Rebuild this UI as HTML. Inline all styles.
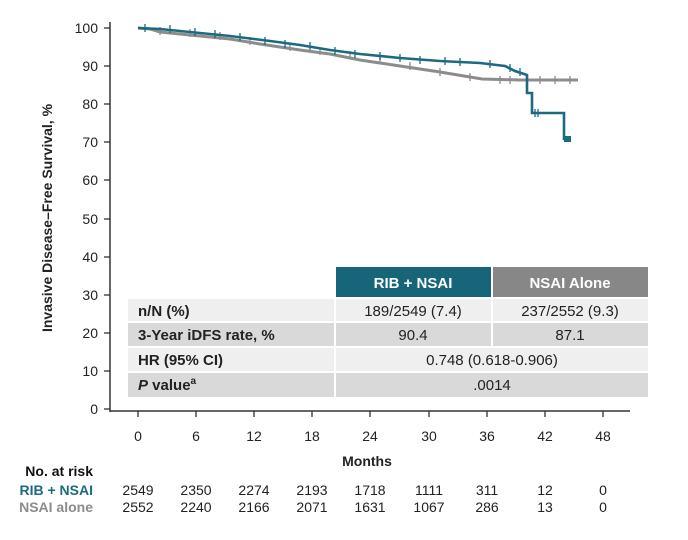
<!DOCTYPE html>
<html><head><style>
body{margin:0;background:#fff;}
svg{font-family:"Liberation Sans",Arial,sans-serif;}
</style></head><body>
<svg width="688" height="535" xmlns="http://www.w3.org/2000/svg">
<rect width="688" height="535" fill="#fff"/>
<line x1="110" y1="22" x2="110" y2="412" stroke="#333" stroke-width="1.5"/>
<line x1="110" y1="411" x2="630" y2="411" stroke="#333" stroke-width="1.5"/>
<g stroke="#333" stroke-width="1.3">
<line x1="104" y1="28" x2="110" y2="28"/><line x1="104" y1="66" x2="110" y2="66"/><line x1="104" y1="104" x2="110" y2="104"/><line x1="104" y1="142" x2="110" y2="142"/><line x1="104" y1="180" x2="110" y2="180"/><line x1="104" y1="219" x2="110" y2="219"/><line x1="104" y1="257" x2="110" y2="257"/><line x1="104" y1="295" x2="110" y2="295"/><line x1="104" y1="333" x2="110" y2="333"/><line x1="104" y1="371" x2="110" y2="371"/><line x1="104" y1="409" x2="110" y2="409"/>
<line x1="138" y1="411" x2="138" y2="417"/><line x1="196" y1="411" x2="196" y2="417"/><line x1="254" y1="411" x2="254" y2="417"/><line x1="312" y1="411" x2="312" y2="417"/><line x1="370" y1="411" x2="370" y2="417"/><line x1="429" y1="411" x2="429" y2="417"/><line x1="487" y1="411" x2="487" y2="417"/><line x1="545" y1="411" x2="545" y2="417"/><line x1="603" y1="411" x2="603" y2="417"/>
</g>
<g font-size="14" fill="#222" text-anchor="end">
<text x="98" y="33">100</text><text x="98" y="71">90</text><text x="98" y="109">80</text><text x="98" y="147">70</text><text x="98" y="185">60</text><text x="98" y="224">50</text><text x="98" y="262">40</text><text x="98" y="300">30</text><text x="98" y="338">20</text><text x="98" y="376">10</text><text x="98" y="414">0</text>
</g>
<g font-size="14" fill="#222" text-anchor="middle">
<text x="138" y="441">0</text><text x="196" y="441">6</text><text x="254" y="441">12</text><text x="312" y="441">18</text><text x="370" y="441">24</text><text x="429" y="441">30</text><text x="487" y="441">36</text><text x="545" y="441">42</text><text x="603" y="441">48</text>
</g>
<text x="367" y="466" font-size="14" font-weight="bold" text-anchor="middle" fill="#222">Months</text>
<text transform="translate(52,218) rotate(-90)" font-size="14" font-weight="bold" text-anchor="middle" fill="#222">Invasive Disease–Free Survival, %</text>
<polyline fill="none" stroke="#8c8c8c" stroke-width="3" points="138,28 150,29 160,32 180,34 200,36 230,39 260,44 300,50 330,54 360,60 400,66 440,72 470,77 482,79 520,80 578,80"/>
<g stroke="#8c8c8c" stroke-width="1.3">
<path d="M160,27v8M190,29v8M220,32v8M250,37v8M290,43v8M320,47v8M350,51v8M380,56v8M410,62v8M440,68v8M470,73v8M500,76v8M510,76v8M540,76v8M555,76v8M570,76v8"/>
</g>
<polyline fill="none" stroke="#1c6a80" stroke-width="2.6" points="138,28 160,29 190,32 230,36 270,41 300,45 330,50 360,54 400,58 440,61 480,63 505,66 515,71 524,74 527,75 527,93 532,93 532,113 564,113 564,139 571,139"/>
<g stroke="#1c6a80" stroke-width="1.3">
<path d="M145,24v8M170,25v8M195,28v8M215,30v8M240,33v8M265,37v8M285,40v8M310,42v8M335,47v8M355,50v8M380,52v8M400,54v8M420,56v8M445,57v8M460,58v8M490,60v8M510,64v8M520,68v8M535,109v8M538,109v8"/>
</g>
<rect x="564" y="136" width="7" height="6" fill="#1c6a80"/>
<rect x="336" y="267" width="155" height="30" fill="#176579"/>
<rect x="493" y="267" width="155" height="30" fill="#878787"/>
<text x="413" y="288" font-size="15" font-weight="bold" fill="#fff" text-anchor="middle">RIB + NSAI</text>
<text x="570" y="288" font-size="15" font-weight="bold" fill="#fff" text-anchor="middle">NSAI Alone</text>
<rect x="128" y="299" width="206" height="22" fill="#efefef"/><rect x="336" y="299" width="155" height="22" fill="#efefef"/><rect x="493" y="299" width="155" height="22" fill="#efefef"/>
<rect x="128" y="323" width="206" height="23" fill="#d9d9d9"/><rect x="336" y="323" width="155" height="23" fill="#d9d9d9"/><rect x="493" y="323" width="155" height="23" fill="#d9d9d9"/>
<rect x="128" y="348" width="206" height="23" fill="#efefef"/><rect x="336" y="348" width="312" height="23" fill="#efefef"/>
<rect x="128" y="373" width="206" height="24" fill="#d9d9d9"/><rect x="336" y="373" width="312" height="24" fill="#d9d9d9"/>
<g font-size="15" fill="#222">
<text x="138" y="316" font-weight="bold">n/N (%)</text>
<text x="138" y="340" font-weight="bold">3-Year iDFS rate, %</text>
<text x="138" y="365" font-weight="bold">HR (95% CI)</text>
<text x="138" y="390" font-weight="bold"><tspan font-style="italic">P</tspan> value<tspan font-size="10" dy="-6">a</tspan></text>
<g text-anchor="middle">
<text x="413" y="316">189/2549 (7.4)</text><text x="570" y="316">237/2552 (9.3)</text>
<text x="413" y="340">90.4</text><text x="570" y="340">87.1</text>
<text x="492" y="365">0.748 (0.618-0.906)</text>
<text x="492" y="390">.0014</text>
</g></g>
<text x="93" y="476" font-size="14" font-weight="bold" text-anchor="end" fill="#111">No. at risk</text>
<text x="93" y="495" font-size="14" font-weight="bold" text-anchor="end" fill="#1c6a80">RIB + NSAI</text>
<text x="93" y="512" font-size="14" font-weight="bold" text-anchor="end" fill="#8c8c8c">NSAI alone</text>
<g font-size="14" fill="#222" text-anchor="middle">
<text x="138" y="495">2549</text><text x="196" y="495">2350</text><text x="254" y="495">2274</text><text x="312" y="495">2193</text><text x="370" y="495">1718</text><text x="429" y="495">1111</text><text x="487" y="495">311</text><text x="545" y="495">12</text><text x="603" y="495">0</text>
<text x="138" y="512">2552</text><text x="196" y="512">2240</text><text x="254" y="512">2166</text><text x="312" y="512">2071</text><text x="370" y="512">1631</text><text x="429" y="512">1067</text><text x="487" y="512">286</text><text x="545" y="512">13</text><text x="603" y="512">0</text>
</g>
</svg>
</body></html>
